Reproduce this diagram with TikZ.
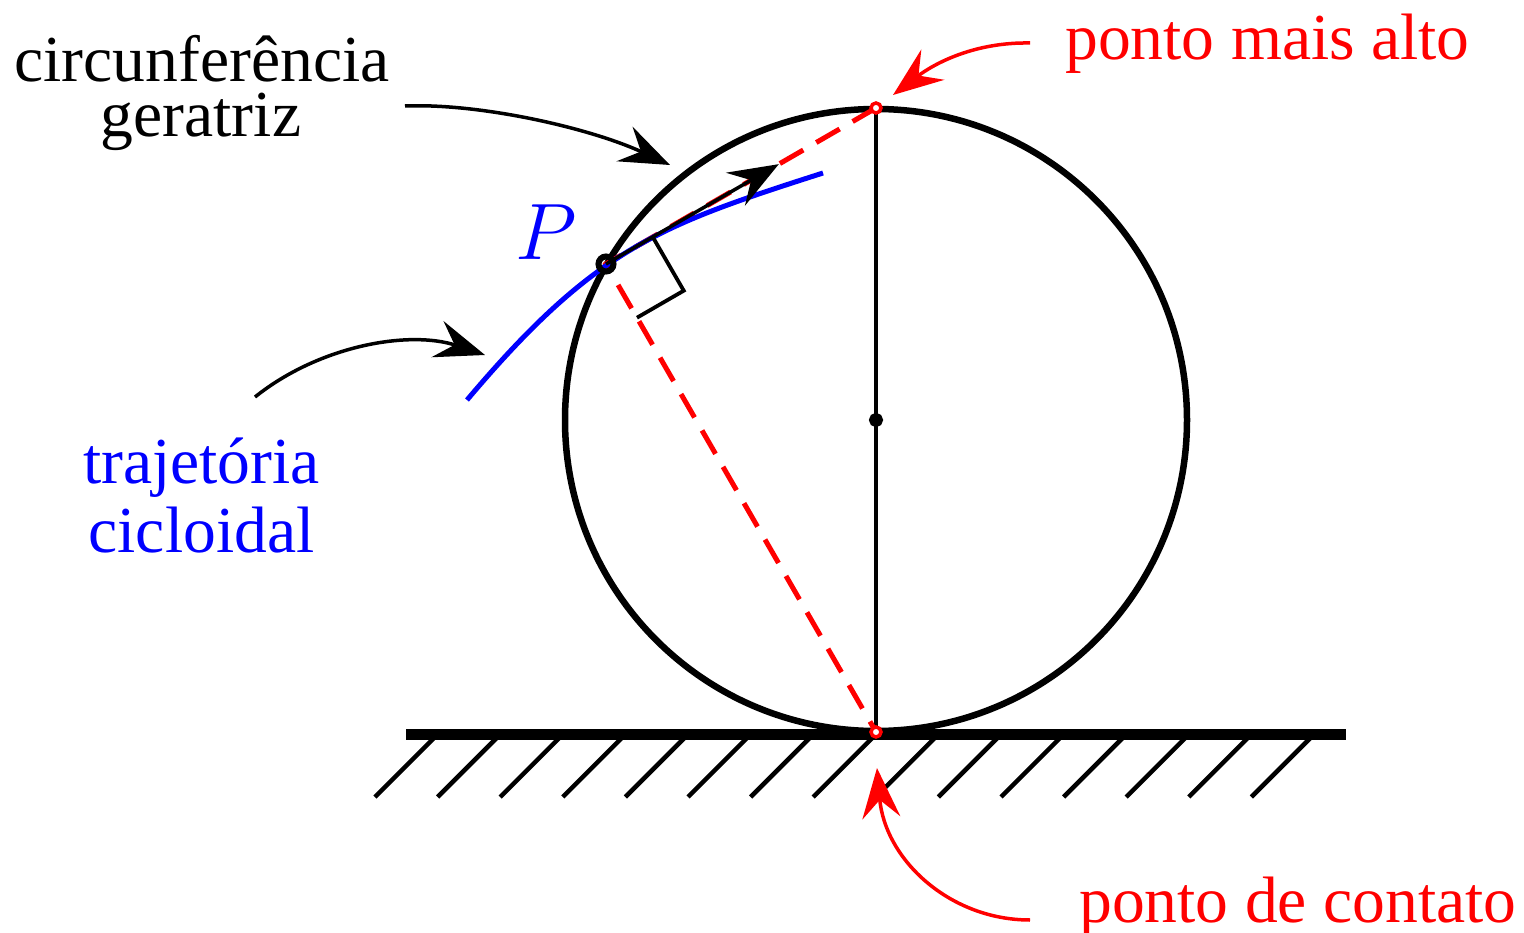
\documentclass[tikz,border=0pt]{standalone}
\usepackage{fix-cm}
\usepackage{fontspec}
\setmainfont{Liberation Serif}
\usetikzlibrary{arrows.meta,calc}
\tikzset{
  lbl/.style={font=\fontsize{65.6}{70}\selectfont, inner sep=0pt},
  arr/.style={line width=3.5pt, -{Stealth[length=50pt,width=38pt,inset=18pt]}},
  hatch/.style={line width=4.5pt},
  dashline/.style={red, line width=5pt, dash pattern=on 27pt off 15pt},
  reddot/.style={red, line width=3.5pt, fill=white},
}
\begin{document}
\begin{tikzpicture}[x=1pt,y=-1pt]
\useasboundingbox (0,0) rectangle (1524,933);
% key points
\coordinate (C) at (876,420);
\coordinate (T) at (876,108);
\coordinate (B) at (876,732);
\coordinate (P) at (606,264);
% ground hatching
\foreach \k in {0,...,14} \draw[hatch] ({375+62.6*\k},797) -- ++(60,-60);
\coordinate (G1) at (406,734);
\coordinate (G2) at (1346,734);
\draw[line width=11pt] (G1) -- (G2);
% circle and diameter
\draw[line width=6.5pt] (C) circle[radius=311pt];
\draw[line width=4pt] (T) -- (B);
% red dashed chords
\draw[dashline] (T) -- (P) -- (B);
% cycloid
\coordinate (cyA) at (467,400);
\coordinate (cyE) at (823,173);
\draw[blue, line width=5pt] (cyA) .. controls (596,247) and (661,225) .. (cyE);
% tangent (velocity) arrow
\coordinate (V) at ($(P)!0.64!(T)$);
\draw[arr] (P) -- (V);
% right angle mark
\coordinate (Ra) at ($(P)!54pt!(T)$);
\coordinate (Rb) at ($(P)!62pt!(B)$);
\draw[line width=3.8pt] (Ra) -- ($(Ra)+(Rb)-(P)$) -- (Rb);
% dots
\draw[line width=6pt] (P) circle[radius=7.5pt];
\draw[line width=5pt] (C) circle[radius=4.5pt];
\draw[reddot] (T) circle[radius=5pt];
\draw[reddot] (B) circle[radius=5pt];
% labels
\node[lbl, anchor=base] (circ1) at (202,82) {circunferência};
\node[lbl, anchor=base] (circ2) at (201,137) {geratriz};
\node[lbl, blue, anchor=base] (traj1) at (201.5,483) {trajetória};
\node[lbl, blue, anchor=base] (traj2) at (201.5,552) {cicloidal};
\node[lbl, red, anchor=base west] (alto) at (1065,60) {ponto mais alto};
\node[lbl, red, anchor=base west] (contato) at (1079,922) {ponto de contato};
\node[inner sep=0pt, blue, anchor=base, font=\fontsize{80}{80}\selectfont] (Plbl) at (546,260) {$P$};
% annotation arrows
\coordinate (a1s) at (405,106);
\coordinate (a1e) at (670,165);
\draw[arr] (a1s) .. controls (480,103) and (590,128) .. (a1e);
\coordinate (a2s) at (255,397);
\coordinate (a2e) at (485,355);
\draw[arr] (a2s) .. controls (320,345) and (410,330) .. (a2e);
\coordinate (a3s) at (1030,43);
\coordinate (a3e) at (893,95);
\draw[arr, red] (a3s) .. controls (975,42) and (935,63) .. (a3e);
\coordinate (a4s) at (1030,920);
\coordinate (a4e) at (877,768);
\draw[arr, red] (a4s) .. controls (950,920) and (885,860) .. (a4e);
\end{tikzpicture}
\end{document}
